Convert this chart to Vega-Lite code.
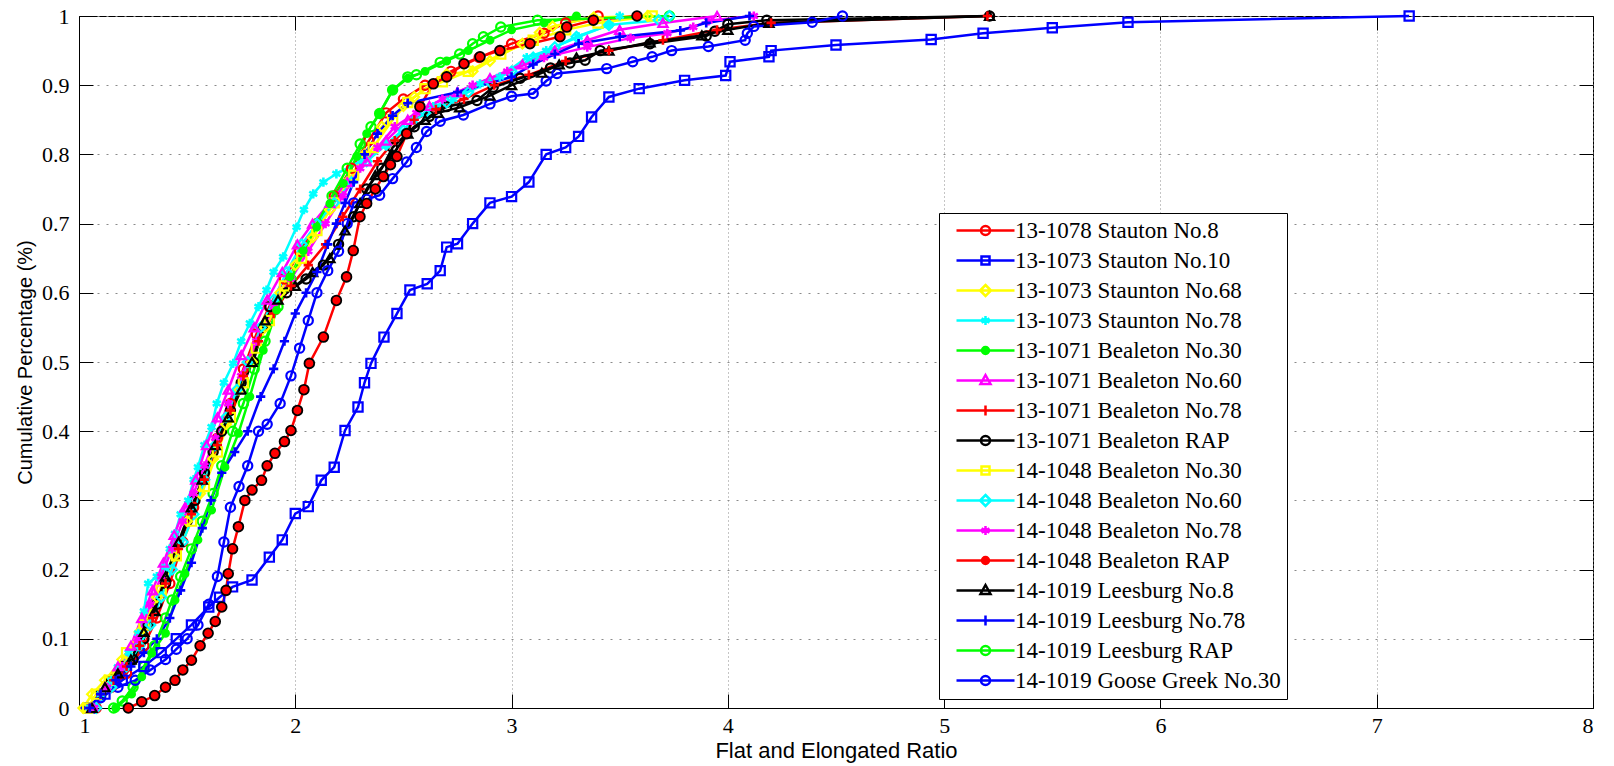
{
  "$schema": "https://vega.github.io/schema/vega-lite/v6.json",
  "width": 1514,
  "height": 692,
  "autosize": {"type": "none"},
  "padding": {"left": 79, "top": 16, "right": 21, "bottom": 58},
  "background": "white",
  "config": {
    "view": {"stroke": "black", "strokeWidth": 1},
    "axis": {"domainColor": "black", "tickColor": "black", "labelColor": "black", "titleColor": "black"},
    "legend": {
      "orient": "none", "legendX": 860, "legendY": 197,
      "strokeColor": "black", "fillColor": "white", "padding": 6, "cornerRadius": 0,
      "labelFont": "Liberation Serif", "labelFontSize": 23, "labelColor": "black",
      "symbolSize": 100, "symbolStrokeWidth": 2.5, "symbolOffset": 29, "labelOffset": 18,
      "rowPadding": 6, "labelLimit": 400
    }
  },
  "datasets": {
    "names": [
      {"id": 1, "series": "13-1078 Stauton No.8"},
      {"id": 2, "series": "13-1073 Stauton No.10"},
      {"id": 3, "series": "13-1073 Staunton No.68"},
      {"id": 4, "series": "13-1073 Staunton No.78"},
      {"id": 5, "series": "13-1071 Bealeton No.30"},
      {"id": 6, "series": "13-1071 Bealeton No.60"},
      {"id": 7, "series": "13-1071 Bealeton No.78"},
      {"id": 8, "series": "13-1071 Bealeton RAP"},
      {"id": 9, "series": "14-1048 Bealeton No.30"},
      {"id": 10, "series": "14-1048 Bealeton No.60"},
      {"id": 11, "series": "14-1048 Bealeton No.78"},
      {"id": 12, "series": "14-1048 Bealeton RAP"},
      {"id": 13, "series": "14-1019 Leesburg No.8"},
      {"id": 14, "series": "14-1019 Leesburg No.78"},
      {"id": 15, "series": "14-1019 Leesburg RAP"},
      {"id": 16, "series": "14-1019 Goose Greek No.30"}
    ],
    "pts": [
      {"id":1,"x":1.08,"y":0},{"id":1,"x":1.15,"y":0.03},{"id":1,"x":1.22,"y":0.05},{"id":1,"x":1.3,"y":0.09},{"id":1,"x":1.36,"y":0.13},{"id":1,"x":1.42,"y":0.18},{"id":1,"x":1.48,"y":0.24},{"id":1,"x":1.53,"y":0.29},{"id":1,"x":1.58,"y":0.33},{"id":1,"x":1.64,"y":0.39},{"id":1,"x":1.7,"y":0.44},{"id":1,"x":1.76,"y":0.49},{"id":1,"x":1.82,"y":0.54},{"id":1,"x":1.88,"y":0.58},{"id":1,"x":1.95,"y":0.62},{"id":1,"x":2.02,"y":0.66},{"id":1,"x":2.1,"y":0.7},{"id":1,"x":2.18,"y":0.74},{"id":1,"x":2.26,"y":0.78},{"id":1,"x":2.34,"y":0.82},{"id":1,"x":2.42,"y":0.86},{"id":1,"x":2.5,"y":0.88},{"id":1,"x":2.6,"y":0.9},{"id":1,"x":2.72,"y":0.92},{"id":1,"x":2.85,"y":0.94},{"id":1,"x":3.0,"y":0.96},{"id":1,"x":3.15,"y":0.975},{"id":1,"x":3.25,"y":0.99},{"id":1,"x":3.4,"y":1.0},

      {"id":2,"x":1.05,"y":0},{"id":2,"x":1.12,"y":0.02},{"id":2,"x":1.2,"y":0.04},{"id":2,"x":1.3,"y":0.06},{"id":2,"x":1.38,"y":0.08},{"id":2,"x":1.45,"y":0.1},{"id":2,"x":1.52,"y":0.12},{"id":2,"x":1.6,"y":0.146},{"id":2,"x":1.65,"y":0.16},{"id":2,"x":1.71,"y":0.175},{"id":2,"x":1.8,"y":0.185},{"id":2,"x":1.88,"y":0.218},{"id":2,"x":1.94,"y":0.243},{"id":2,"x":2.0,"y":0.281},{"id":2,"x":2.06,"y":0.291},{"id":2,"x":2.12,"y":0.329},{"id":2,"x":2.18,"y":0.348},{"id":2,"x":2.23,"y":0.401},{"id":2,"x":2.29,"y":0.435},{"id":2,"x":2.32,"y":0.47},{"id":2,"x":2.35,"y":0.498},{"id":2,"x":2.41,"y":0.536},{"id":2,"x":2.47,"y":0.57},{"id":2,"x":2.53,"y":0.604},{"id":2,"x":2.61,"y":0.613},{"id":2,"x":2.67,"y":0.632},{"id":2,"x":2.7,"y":0.666},{"id":2,"x":2.75,"y":0.671},{"id":2,"x":2.82,"y":0.7},{"id":2,"x":2.9,"y":0.73},{"id":2,"x":3.0,"y":0.739},{"id":2,"x":3.08,"y":0.76},{"id":2,"x":3.16,"y":0.8},{"id":2,"x":3.25,"y":0.81},{"id":2,"x":3.31,"y":0.826},{"id":2,"x":3.37,"y":0.854},{"id":2,"x":3.45,"y":0.883},{"id":2,"x":3.59,"y":0.895},{"id":2,"x":3.8,"y":0.907},{"id":2,"x":3.99,"y":0.914},{"id":2,"x":4.01,"y":0.934},{"id":2,"x":4.19,"y":0.941},{"id":2,"x":4.2,"y":0.95},{"id":2,"x":4.5,"y":0.958},{"id":2,"x":4.94,"y":0.966},{"id":2,"x":5.18,"y":0.975},{"id":2,"x":5.5,"y":0.983},{"id":2,"x":5.85,"y":0.991},{"id":2,"x":7.15,"y":1.0},

      {"id":3,"x":1.02,"y":0},{"id":3,"x":1.06,"y":0.02},{"id":3,"x":1.12,"y":0.04},{"id":3,"x":1.2,"y":0.07},{"id":3,"x":1.28,"y":0.11},{"id":3,"x":1.36,"y":0.16},{"id":3,"x":1.44,"y":0.22},{"id":3,"x":1.5,"y":0.27},{"id":3,"x":1.56,"y":0.31},{"id":3,"x":1.62,"y":0.36},{"id":3,"x":1.68,"y":0.41},{"id":3,"x":1.74,"y":0.46},{"id":3,"x":1.8,"y":0.5},{"id":3,"x":1.86,"y":0.55},{"id":3,"x":1.93,"y":0.6},{"id":3,"x":2.0,"y":0.64},{"id":3,"x":2.08,"y":0.68},{"id":3,"x":2.16,"y":0.72},{"id":3,"x":2.24,"y":0.76},{"id":3,"x":2.32,"y":0.8},{"id":3,"x":2.4,"y":0.84},{"id":3,"x":2.5,"y":0.87},{"id":3,"x":2.55,"y":0.883},{"id":3,"x":2.7,"y":0.916},{"id":3,"x":2.82,"y":0.92},{"id":3,"x":2.9,"y":0.935},{"id":3,"x":3.05,"y":0.96},{"id":3,"x":3.13,"y":0.976},{"id":3,"x":3.19,"y":0.985},{"id":3,"x":3.38,"y":0.998},{"id":3,"x":3.63,"y":1.0},

      {"id":4,"x":1.05,"y":0},{"id":4,"x":1.1,"y":0.02},{"id":4,"x":1.15,"y":0.04},{"id":4,"x":1.18,"y":0.059},{"id":4,"x":1.23,"y":0.08},{"id":4,"x":1.274,"y":0.108},{"id":4,"x":1.3,"y":0.14},{"id":4,"x":1.32,"y":0.18},{"id":4,"x":1.36,"y":0.19},{"id":4,"x":1.4,"y":0.204},{"id":4,"x":1.42,"y":0.23},{"id":4,"x":1.444,"y":0.252},{"id":4,"x":1.47,"y":0.28},{"id":4,"x":1.505,"y":0.3},{"id":4,"x":1.53,"y":0.33},{"id":4,"x":1.55,"y":0.348},{"id":4,"x":1.58,"y":0.38},{"id":4,"x":1.613,"y":0.406},{"id":4,"x":1.637,"y":0.44},{"id":4,"x":1.67,"y":0.47},{"id":4,"x":1.713,"y":0.498},{"id":4,"x":1.75,"y":0.53},{"id":4,"x":1.79,"y":0.556},{"id":4,"x":1.83,"y":0.58},{"id":4,"x":1.867,"y":0.604},{"id":4,"x":1.9,"y":0.63},{"id":4,"x":1.944,"y":0.652},{"id":4,"x":2.006,"y":0.695},{"id":4,"x":2.04,"y":0.72},{"id":4,"x":2.083,"y":0.743},{"id":4,"x":2.13,"y":0.76},{"id":4,"x":2.19,"y":0.772},{"id":4,"x":2.3,"y":0.79},{"id":4,"x":2.42,"y":0.814},{"id":4,"x":2.546,"y":0.849},{"id":4,"x":2.638,"y":0.869},{"id":4,"x":2.73,"y":0.88},{"id":4,"x":2.854,"y":0.902},{"id":4,"x":2.946,"y":0.912},{"id":4,"x":3.07,"y":0.94},{"id":4,"x":3.16,"y":0.95},{"id":4,"x":3.31,"y":0.97},{"id":4,"x":3.45,"y":0.987},{"id":4,"x":3.5,"y":1.0},

      {"id":5,"x":1.17,"y":0},{"id":5,"x":1.243,"y":0.02},{"id":5,"x":1.29,"y":0.045},{"id":5,"x":1.336,"y":0.079},{"id":5,"x":1.4,"y":0.108},{"id":5,"x":1.444,"y":0.156},{"id":5,"x":1.49,"y":0.194},{"id":5,"x":1.55,"y":0.243},{"id":5,"x":1.613,"y":0.286},{"id":5,"x":1.675,"y":0.348},{"id":5,"x":1.737,"y":0.397},{"id":5,"x":1.79,"y":0.45},{"id":5,"x":1.852,"y":0.517},{"id":5,"x":1.914,"y":0.575},{"id":5,"x":1.975,"y":0.623},{"id":5,"x":2.037,"y":0.661},{"id":5,"x":2.099,"y":0.695},{"id":5,"x":2.16,"y":0.729},{"id":5,"x":2.222,"y":0.758},{"id":5,"x":2.284,"y":0.797},{"id":5,"x":2.33,"y":0.83},{"id":5,"x":2.39,"y":0.86},{"id":5,"x":2.45,"y":0.893},{"id":5,"x":2.52,"y":0.91},{"id":5,"x":2.6,"y":0.92},{"id":5,"x":2.7,"y":0.935},{"id":5,"x":2.8,"y":0.95},{"id":5,"x":2.9,"y":0.965},{"id":5,"x":3.0,"y":0.98},{"id":5,"x":3.15,"y":0.99},{"id":5,"x":3.3,"y":1.0},

      {"id":6,"x":1.06,"y":0},{"id":6,"x":1.12,"y":0.03},{"id":6,"x":1.18,"y":0.06},{"id":6,"x":1.24,"y":0.09},{"id":6,"x":1.29,"y":0.13},{"id":6,"x":1.34,"y":0.17},{"id":6,"x":1.39,"y":0.21},{"id":6,"x":1.44,"y":0.25},{"id":6,"x":1.49,"y":0.29},{"id":6,"x":1.54,"y":0.33},{"id":6,"x":1.59,"y":0.38},{"id":6,"x":1.64,"y":0.42},{"id":6,"x":1.69,"y":0.46},{"id":6,"x":1.75,"y":0.51},{"id":6,"x":1.81,"y":0.55},{"id":6,"x":1.87,"y":0.59},{"id":6,"x":1.94,"y":0.63},{"id":6,"x":2.01,"y":0.67},{"id":6,"x":2.08,"y":0.7},{"id":6,"x":2.16,"y":0.73},{"id":6,"x":2.24,"y":0.76},{"id":6,"x":2.33,"y":0.79},{"id":6,"x":2.42,"y":0.82},{"id":6,"x":2.52,"y":0.85},{"id":6,"x":2.62,"y":0.87},{"id":6,"x":2.75,"y":0.89},{"id":6,"x":2.9,"y":0.91},{"id":6,"x":3.05,"y":0.93},{"id":6,"x":3.2,"y":0.95},{"id":6,"x":3.35,"y":0.965},{"id":6,"x":3.5,"y":0.98},{"id":6,"x":3.7,"y":0.99},{"id":6,"x":3.95,"y":1.0},

      {"id":7,"x":1.05,"y":0},{"id":7,"x":1.1,"y":0.02},{"id":7,"x":1.16,"y":0.04},{"id":7,"x":1.22,"y":0.06},{"id":7,"x":1.28,"y":0.09},{"id":7,"x":1.34,"y":0.13},{"id":7,"x":1.4,"y":0.18},{"id":7,"x":1.46,"y":0.23},{"id":7,"x":1.52,"y":0.28},{"id":7,"x":1.58,"y":0.33},{"id":7,"x":1.64,"y":0.38},{"id":7,"x":1.7,"y":0.43},{"id":7,"x":1.76,"y":0.48},{"id":7,"x":1.83,"y":0.53},{"id":7,"x":1.9,"y":0.57},{"id":7,"x":1.98,"y":0.61},{"id":7,"x":2.06,"y":0.64},{"id":7,"x":2.14,"y":0.67},{"id":7,"x":2.22,"y":0.71},{"id":7,"x":2.3,"y":0.75},{"id":7,"x":2.38,"y":0.79},{"id":7,"x":2.46,"y":0.82},{"id":7,"x":2.55,"y":0.85},{"id":7,"x":2.65,"y":0.865},{"id":7,"x":2.78,"y":0.88},{"id":7,"x":2.92,"y":0.9},{"id":7,"x":3.08,"y":0.915},{"id":7,"x":3.25,"y":0.935},{"id":7,"x":3.45,"y":0.95},{"id":7,"x":3.7,"y":0.965},{"id":7,"x":3.95,"y":0.98},{"id":7,"x":4.2,"y":0.99},{"id":7,"x":5.2,"y":1.0},

      {"id":8,"x":1.05,"y":0},{"id":8,"x":1.1,"y":0.02},{"id":8,"x":1.15,"y":0.04},{"id":8,"x":1.2,"y":0.06},{"id":8,"x":1.25,"y":0.07},{"id":8,"x":1.3,"y":0.1},{"id":8,"x":1.32,"y":0.12},{"id":8,"x":1.36,"y":0.15},{"id":8,"x":1.4,"y":0.18},{"id":8,"x":1.45,"y":0.22},{"id":8,"x":1.5,"y":0.27},{"id":8,"x":1.536,"y":0.3},{"id":8,"x":1.58,"y":0.34},{"id":8,"x":1.62,"y":0.37},{"id":8,"x":1.66,"y":0.4},{"id":8,"x":1.7,"y":0.43},{"id":8,"x":1.75,"y":0.47},{"id":8,"x":1.806,"y":0.5},{"id":8,"x":1.85,"y":0.55},{"id":8,"x":1.883,"y":0.58},{"id":8,"x":1.96,"y":0.6},{"id":8,"x":2.05,"y":0.62},{"id":8,"x":2.13,"y":0.64},{"id":8,"x":2.2,"y":0.67},{"id":8,"x":2.27,"y":0.71},{"id":8,"x":2.33,"y":0.75},{"id":8,"x":2.4,"y":0.78},{"id":8,"x":2.45,"y":0.81},{"id":8,"x":2.55,"y":0.84},{"id":8,"x":2.62,"y":0.855},{"id":8,"x":2.7,"y":0.869},{"id":8,"x":2.84,"y":0.878},{"id":8,"x":2.915,"y":0.897},{"id":8,"x":3.04,"y":0.91},{"id":8,"x":3.18,"y":0.925},{"id":8,"x":3.27,"y":0.932},{"id":8,"x":3.34,"y":0.936},{"id":8,"x":3.41,"y":0.95},{"id":8,"x":3.64,"y":0.96},{"id":8,"x":3.9,"y":0.971},{"id":8,"x":3.94,"y":0.978},{"id":8,"x":4.0,"y":0.988},{"id":8,"x":4.18,"y":0.994},{"id":8,"x":5.21,"y":1.0},

      {"id":9,"x":1.04,"y":0},{"id":9,"x":1.08,"y":0.02},{"id":9,"x":1.14,"y":0.04},{"id":9,"x":1.22,"y":0.08},{"id":9,"x":1.3,"y":0.12},{"id":9,"x":1.38,"y":0.17},{"id":9,"x":1.45,"y":0.22},{"id":9,"x":1.52,"y":0.27},{"id":9,"x":1.58,"y":0.32},{"id":9,"x":1.64,"y":0.37},{"id":9,"x":1.7,"y":0.42},{"id":9,"x":1.76,"y":0.47},{"id":9,"x":1.82,"y":0.52},{"id":9,"x":1.88,"y":0.56},{"id":9,"x":1.95,"y":0.61},{"id":9,"x":2.03,"y":0.65},{"id":9,"x":2.1,"y":0.69},{"id":9,"x":2.18,"y":0.73},{"id":9,"x":2.27,"y":0.77},{"id":9,"x":2.36,"y":0.81},{"id":9,"x":2.45,"y":0.85},{"id":9,"x":2.52,"y":0.875},{"id":9,"x":2.6,"y":0.895},{"id":9,"x":2.68,"y":0.905},{"id":9,"x":2.8,"y":0.92},{"id":9,"x":2.95,"y":0.945},{"id":9,"x":3.1,"y":0.965},{"id":9,"x":3.25,"y":0.98},{"id":9,"x":3.4,"y":0.99},{"id":9,"x":3.65,"y":1.0},

      {"id":10,"x":1.08,"y":0},{"id":10,"x":1.15,"y":0.03},{"id":10,"x":1.22,"y":0.06},{"id":10,"x":1.28,"y":0.09},{"id":10,"x":1.33,"y":0.12},{"id":10,"x":1.38,"y":0.16},{"id":10,"x":1.43,"y":0.2},{"id":10,"x":1.48,"y":0.24},{"id":10,"x":1.53,"y":0.28},{"id":10,"x":1.58,"y":0.33},{"id":10,"x":1.63,"y":0.38},{"id":10,"x":1.68,"y":0.42},{"id":10,"x":1.73,"y":0.46},{"id":10,"x":1.78,"y":0.5},{"id":10,"x":1.84,"y":0.55},{"id":10,"x":1.9,"y":0.59},{"id":10,"x":1.96,"y":0.63},{"id":10,"x":2.03,"y":0.67},{"id":10,"x":2.1,"y":0.7},{"id":10,"x":2.18,"y":0.73},{"id":10,"x":2.26,"y":0.76},{"id":10,"x":2.33,"y":0.79},{"id":10,"x":2.42,"y":0.814},{"id":10,"x":2.5,"y":0.835},{"id":10,"x":2.6,"y":0.86},{"id":10,"x":2.7,"y":0.875},{"id":10,"x":2.8,"y":0.89},{"id":10,"x":2.9,"y":0.905},{"id":10,"x":3.0,"y":0.92},{"id":10,"x":3.1,"y":0.94},{"id":10,"x":3.2,"y":0.955},{"id":10,"x":3.3,"y":0.97},{"id":10,"x":3.45,"y":0.987},{"id":10,"x":3.68,"y":0.994},{"id":10,"x":3.73,"y":1.0},

      {"id":11,"x":1.07,"y":0},{"id":11,"x":1.13,"y":0.03},{"id":11,"x":1.2,"y":0.06},{"id":11,"x":1.27,"y":0.1},{"id":11,"x":1.33,"y":0.15},{"id":11,"x":1.38,"y":0.19},{"id":11,"x":1.43,"y":0.23},{"id":11,"x":1.48,"y":0.27},{"id":11,"x":1.53,"y":0.31},{"id":11,"x":1.58,"y":0.35},{"id":11,"x":1.63,"y":0.39},{"id":11,"x":1.69,"y":0.44},{"id":11,"x":1.75,"y":0.48},{"id":11,"x":1.82,"y":0.53},{"id":11,"x":1.9,"y":0.58},{"id":11,"x":1.98,"y":0.62},{"id":11,"x":2.06,"y":0.66},{"id":11,"x":2.14,"y":0.7},{"id":11,"x":2.22,"y":0.74},{"id":11,"x":2.3,"y":0.78},{"id":11,"x":2.38,"y":0.81},{"id":11,"x":2.46,"y":0.84},{"id":11,"x":2.56,"y":0.86},{"id":11,"x":2.68,"y":0.88},{"id":11,"x":2.82,"y":0.9},{"id":11,"x":2.98,"y":0.92},{"id":11,"x":3.15,"y":0.94},{"id":11,"x":3.35,"y":0.955},{"id":11,"x":3.55,"y":0.968},{"id":11,"x":3.72,"y":0.975},{"id":11,"x":3.84,"y":0.984},{"id":11,"x":3.91,"y":0.993},{"id":11,"x":4.12,"y":1.0},

      {"id":12,"x":1.228,"y":0},{"id":12,"x":1.29,"y":0.009},{"id":12,"x":1.35,"y":0.018},{"id":12,"x":1.4,"y":0.03},{"id":12,"x":1.444,"y":0.04},{"id":12,"x":1.48,"y":0.055},{"id":12,"x":1.52,"y":0.069},{"id":12,"x":1.56,"y":0.09},{"id":12,"x":1.597,"y":0.108},{"id":12,"x":1.63,"y":0.125},{"id":12,"x":1.66,"y":0.146},{"id":12,"x":1.68,"y":0.17},{"id":12,"x":1.69,"y":0.194},{"id":12,"x":1.71,"y":0.23},{"id":12,"x":1.737,"y":0.262},{"id":12,"x":1.767,"y":0.3},{"id":12,"x":1.8,"y":0.315},{"id":12,"x":1.844,"y":0.329},{"id":12,"x":1.87,"y":0.35},{"id":12,"x":1.906,"y":0.368},{"id":12,"x":1.95,"y":0.385},{"id":12,"x":1.98,"y":0.401},{"id":12,"x":2.01,"y":0.43},{"id":12,"x":2.04,"y":0.46},{"id":12,"x":2.065,"y":0.498},{"id":12,"x":2.13,"y":0.536},{"id":12,"x":2.19,"y":0.589},{"id":12,"x":2.237,"y":0.623},{"id":12,"x":2.268,"y":0.661},{"id":12,"x":2.299,"y":0.71},{"id":12,"x":2.33,"y":0.729},{"id":12,"x":2.37,"y":0.75},{"id":12,"x":2.407,"y":0.768},{"id":12,"x":2.44,"y":0.785},{"id":12,"x":2.47,"y":0.797},{"id":12,"x":2.515,"y":0.83},{"id":12,"x":2.576,"y":0.869},{"id":12,"x":2.638,"y":0.902},{"id":12,"x":2.7,"y":0.912},{"id":12,"x":2.78,"y":0.931},{"id":12,"x":2.854,"y":0.941},{"id":12,"x":2.946,"y":0.95},{"id":12,"x":3.085,"y":0.96},{"id":12,"x":3.224,"y":0.97},{"id":12,"x":3.255,"y":0.984},{"id":12,"x":3.378,"y":0.994},{"id":12,"x":3.58,"y":1.0},

      {"id":13,"x":1.06,"y":0},{"id":13,"x":1.12,"y":0.03},{"id":13,"x":1.18,"y":0.05},{"id":13,"x":1.24,"y":0.07},{"id":13,"x":1.3,"y":0.11},{"id":13,"x":1.35,"y":0.14},{"id":13,"x":1.4,"y":0.19},{"id":13,"x":1.46,"y":0.24},{"id":13,"x":1.52,"y":0.29},{"id":13,"x":1.57,"y":0.33},{"id":13,"x":1.63,"y":0.38},{"id":13,"x":1.69,"y":0.42},{"id":13,"x":1.75,"y":0.46},{"id":13,"x":1.8,"y":0.5},{"id":13,"x":1.86,"y":0.56},{"id":13,"x":1.92,"y":0.59},{"id":13,"x":2.0,"y":0.61},{"id":13,"x":2.08,"y":0.63},{"id":13,"x":2.16,"y":0.65},{"id":13,"x":2.23,"y":0.69},{"id":13,"x":2.3,"y":0.73},{"id":13,"x":2.37,"y":0.77},{"id":13,"x":2.45,"y":0.8},{"id":13,"x":2.52,"y":0.83},{"id":13,"x":2.6,"y":0.85},{"id":13,"x":2.66,"y":0.86},{"id":13,"x":2.76,"y":0.868},{"id":13,"x":2.9,"y":0.885},{"id":13,"x":3.0,"y":0.9},{"id":13,"x":3.14,"y":0.918},{"id":13,"x":3.22,"y":0.93},{"id":13,"x":3.3,"y":0.94},{"id":13,"x":3.45,"y":0.95},{"id":13,"x":3.64,"y":0.962},{"id":13,"x":3.88,"y":0.972},{"id":13,"x":4.0,"y":0.98},{"id":13,"x":4.19,"y":0.99},{"id":13,"x":5.21,"y":1.0},

      {"id":14,"x":1.05,"y":0},{"id":14,"x":1.1,"y":0.02},{"id":14,"x":1.17,"y":0.04},{"id":14,"x":1.24,"y":0.06},{"id":14,"x":1.3,"y":0.08},{"id":14,"x":1.36,"y":0.1},{"id":14,"x":1.42,"y":0.13},{"id":14,"x":1.47,"y":0.17},{"id":14,"x":1.52,"y":0.21},{"id":14,"x":1.57,"y":0.26},{"id":14,"x":1.61,"y":0.3},{"id":14,"x":1.66,"y":0.34},{"id":14,"x":1.72,"y":0.37},{"id":14,"x":1.78,"y":0.4},{"id":14,"x":1.84,"y":0.45},{"id":14,"x":1.9,"y":0.49},{"id":14,"x":1.95,"y":0.53},{"id":14,"x":2.0,"y":0.57},{"id":14,"x":2.05,"y":0.6},{"id":14,"x":2.1,"y":0.63},{"id":14,"x":2.15,"y":0.67},{"id":14,"x":2.19,"y":0.7},{"id":14,"x":2.23,"y":0.73},{"id":14,"x":2.27,"y":0.76},{"id":14,"x":2.32,"y":0.8},{"id":14,"x":2.38,"y":0.83},{"id":14,"x":2.45,"y":0.856},{"id":14,"x":2.52,"y":0.874},{"id":14,"x":2.75,"y":0.89},{"id":14,"x":3.0,"y":0.912},{"id":14,"x":3.1,"y":0.93},{"id":14,"x":3.2,"y":0.945},{"id":14,"x":3.31,"y":0.96},{"id":14,"x":3.5,"y":0.97},{"id":14,"x":3.78,"y":0.979},{"id":14,"x":3.9,"y":0.99},{"id":14,"x":4.1,"y":1.0},

      {"id":15,"x":1.16,"y":0},{"id":15,"x":1.2,"y":0.01},{"id":15,"x":1.25,"y":0.03},{"id":15,"x":1.3,"y":0.06},{"id":15,"x":1.35,"y":0.09},{"id":15,"x":1.4,"y":0.13},{"id":15,"x":1.43,"y":0.156},{"id":15,"x":1.47,"y":0.19},{"id":15,"x":1.52,"y":0.23},{"id":15,"x":1.57,"y":0.27},{"id":15,"x":1.62,"y":0.31},{"id":15,"x":1.66,"y":0.35},{"id":15,"x":1.71,"y":0.4},{"id":15,"x":1.76,"y":0.44},{"id":15,"x":1.81,"y":0.49},{"id":15,"x":1.86,"y":0.53},{"id":15,"x":1.92,"y":0.58},{"id":15,"x":1.98,"y":0.62},{"id":15,"x":2.04,"y":0.66},{"id":15,"x":2.1,"y":0.7},{"id":15,"x":2.17,"y":0.74},{"id":15,"x":2.24,"y":0.78},{"id":15,"x":2.3,"y":0.815},{"id":15,"x":2.35,"y":0.84},{"id":15,"x":2.39,"y":0.859},{"id":15,"x":2.45,"y":0.893},{"id":15,"x":2.52,"y":0.912},{"id":15,"x":2.56,"y":0.915},{"id":15,"x":2.67,"y":0.933},{"id":15,"x":2.76,"y":0.945},{"id":15,"x":2.82,"y":0.96},{"id":15,"x":2.87,"y":0.97},{"id":15,"x":2.95,"y":0.984},{"id":15,"x":3.12,"y":0.994},{"id":15,"x":3.73,"y":1.0},

      {"id":16,"x":1.03,"y":0},{"id":16,"x":1.1,"y":0.015},{"id":16,"x":1.18,"y":0.03},{"id":16,"x":1.26,"y":0.04},{"id":16,"x":1.33,"y":0.055},{"id":16,"x":1.4,"y":0.07},{"id":16,"x":1.45,"y":0.085},{"id":16,"x":1.5,"y":0.1},{"id":16,"x":1.55,"y":0.12},{"id":16,"x":1.6,"y":0.15},{"id":16,"x":1.64,"y":0.19},{"id":16,"x":1.67,"y":0.24},{"id":16,"x":1.7,"y":0.29},{"id":16,"x":1.74,"y":0.32},{"id":16,"x":1.78,"y":0.35},{"id":16,"x":1.83,"y":0.4},{"id":16,"x":1.87,"y":0.41},{"id":16,"x":1.93,"y":0.44},{"id":16,"x":1.98,"y":0.48},{"id":16,"x":2.02,"y":0.52},{"id":16,"x":2.06,"y":0.56},{"id":16,"x":2.1,"y":0.6},{"id":16,"x":2.15,"y":0.632},{"id":16,"x":2.2,"y":0.66},{"id":16,"x":2.24,"y":0.7},{"id":16,"x":2.27,"y":0.73},{"id":16,"x":2.33,"y":0.735},{"id":16,"x":2.39,"y":0.741},{"id":16,"x":2.45,"y":0.765},{"id":16,"x":2.515,"y":0.789},{"id":16,"x":2.56,"y":0.81},{"id":16,"x":2.607,"y":0.833},{"id":16,"x":2.67,"y":0.848},{"id":16,"x":2.777,"y":0.857},{"id":16,"x":2.9,"y":0.873},{"id":16,"x":3.0,"y":0.884},{"id":16,"x":3.1,"y":0.888},{"id":16,"x":3.16,"y":0.906},{"id":16,"x":3.21,"y":0.917},{"id":16,"x":3.44,"y":0.924},{"id":16,"x":3.56,"y":0.934},{"id":16,"x":3.65,"y":0.941},{"id":16,"x":3.74,"y":0.95},{"id":16,"x":3.91,"y":0.956},{"id":16,"x":4.08,"y":0.965},{"id":16,"x":4.09,"y":0.975},{"id":16,"x":4.12,"y":0.985},{"id":16,"x":4.39,"y":0.991},{"id":16,"x":4.53,"y":1.0}
    ]
  },
  "data": {"name": "pts"},
  "transform": [
    {"lookup": "id", "from": {"data": {"name": "names"}, "key": "id", "fields": ["series"]}}
  ],
  "resolve": {"axis": {"x": "independent", "y": "independent"}},
  "encoding": {
    "x": {"field": "x", "type": "quantitative", "scale": {"domain": [1, 8], "nice": false, "zero": false}, "axis": null},
    "y": {"field": "y", "type": "quantitative", "scale": {"domain": [0, 1], "nice": false}, "axis": null}
  },
  "layer": [
    {
      "mark": {"type": "line", "strokeWidth": 2.5},
      "encoding": {
        "x": {
          "field": "x", "type": "quantitative",
          "axis": {
            "orient": "bottom", "values": [1, 2, 3, 4, 5, 6, 7, 8], "format": "d",
            "grid": true, "gridColor": "#8a8a8a", "gridDash": [1, 3], "gridWidth": 1,
            "domain": true, "domainWidth": 1, "tickSize": -14, "tickWidth": 1,
            "labelFont": "Liberation Serif", "labelFontSize": 22, "labelPadding": 21,
            "title": "Flat and Elongated Ratio", "titleFont": "Liberation Sans", "titleFontSize": 22,
            "titleFontWeight": "normal", "titlePadding": 4
          }
        },
        "y": {
          "field": "y", "type": "quantitative",
          "axis": {
            "orient": "left", "values": [0, 0.1, 0.2, 0.3, 0.4, 0.5, 0.6, 0.7, 0.8, 0.9, 1], "format": "~g",
            "grid": true, "gridColor": "#8a8a8a", "gridDash": [2, 7], "gridWidth": 1,
            "domain": true, "domainWidth": 1, "tickSize": -14, "tickWidth": 1,
            "labelFont": "Liberation Serif", "labelFontSize": 22, "labelPadding": 24,
            "title": "Cumulative Percentage (%)", "titleFont": "Liberation Sans", "titleFontSize": 20,
            "titleFontWeight": "normal", "titlePadding": 6
          }
        },
        "color": {
          "field": "series", "type": "nominal", "legend": {"title": null},
          "scale": {
            "domain": ["13-1078 Stauton No.8", "13-1073 Stauton No.10", "13-1073 Staunton No.68", "13-1073 Staunton No.78", "13-1071 Bealeton No.30", "13-1071 Bealeton No.60", "13-1071 Bealeton No.78", "13-1071 Bealeton RAP", "14-1048 Bealeton No.30", "14-1048 Bealeton No.60", "14-1048 Bealeton No.78", "14-1048 Bealeton RAP", "14-1019 Leesburg No.8", "14-1019 Leesburg No.78", "14-1019 Leesburg RAP", "14-1019 Goose Greek No.30"],
            "range": ["#ff0000", "#0000ff", "#ffff00", "#00ffff", "#00ff00", "#ff00ff", "#ff0000", "#000000", "#ffff00", "#00ffff", "#ff00ff", "#ff0000", "#000000", "#0000ff", "#00ff00", "#0000ff"]
          }
        }
      }
    },
    {
      "transform": [{"filter": "indexof([1, 8, 15, 16], datum.id) >= 0"}],
      "mark": {"type": "point", "shape": "circle", "size": 85, "strokeWidth": 2.2, "filled": false, "opacity": 1},
      "encoding": {
        "x": {
          "field": "x", "type": "quantitative",
          "axis": {"orient": "top", "labels": false, "grid": false, "domain": false, "tickSize": -14, "tickColor": "black", "values": [1, 2, 3, 4, 5, 6, 7, 8], "title": null}
        },
        "y": {
          "field": "y", "type": "quantitative",
          "axis": {"orient": "right", "labels": false, "grid": false, "domain": false, "tickSize": -14, "tickColor": "black", "values": [0, 0.1, 0.2, 0.3, 0.4, 0.5, 0.6, 0.7, 0.8, 0.9, 1], "title": null}
        },
        "color": {"field": "series", "type": "nominal", "legend": {"title": null}}
      }
    },
    {
      "transform": [{"filter": "indexof([2, 9], datum.id) >= 0"}],
      "mark": {"type": "point", "shape": "square", "size": 85, "strokeWidth": 2.2, "filled": false, "opacity": 1},
      "encoding": {"color": {"field": "series", "type": "nominal", "legend": {"title": null}}}
    },
    {
      "transform": [{"filter": "indexof([3, 10], datum.id) >= 0"}],
      "mark": {"type": "point", "shape": "diamond", "size": 95, "strokeWidth": 2.2, "filled": false, "opacity": 1},
      "encoding": {"color": {"field": "series", "type": "nominal", "legend": {"title": null}}}
    },
    {
      "transform": [{"filter": "indexof([4, 11], datum.id) >= 0"}],
      "mark": {"type": "point", "shape": "M0,-1V1M-0.87,-0.5L0.87,0.5M-0.87,0.5L0.87,-0.5", "size": 85, "strokeWidth": 2.6, "filled": false, "opacity": 1},
      "encoding": {"color": {"field": "series", "type": "nominal", "legend": {"title": null}}}
    },
    {
      "transform": [{"filter": "indexof([6, 13], datum.id) >= 0"}],
      "mark": {"type": "point", "shape": "triangle-up", "size": 85, "strokeWidth": 2.2, "filled": false, "opacity": 1},
      "encoding": {"color": {"field": "series", "type": "nominal", "legend": {"title": null}}}
    },
    {
      "transform": [{"filter": "indexof([7, 14], datum.id) >= 0"}],
      "mark": {"type": "point", "shape": "M0,-1V1M-1,0H1", "size": 85, "strokeWidth": 2.6, "filled": false, "opacity": 1},
      "encoding": {"color": {"field": "series", "type": "nominal", "legend": {"title": null}}}
    },
    {
      "transform": [{"filter": "datum.id == 5"}],
      "mark": {"type": "point", "shape": "circle", "size": 55, "strokeWidth": 1.5, "filled": true, "opacity": 1, "fill": "#00ff00", "stroke": "#00ff00"}
    },
    {
      "transform": [{"filter": "datum.id == 12"}],
      "mark": {"type": "point", "shape": "circle", "size": 95, "strokeWidth": 1.8, "opacity": 1, "fill": "#ff0000", "stroke": "#000000"}
    },
    {
      "transform": [{"filter": "datum.x > 100"}],
      "mark": {"type": "point", "size": 100, "strokeWidth": 2.5, "filled": false, "opacity": 1},
      "encoding": {
        "color": {"field": "series", "type": "nominal", "legend": {"title": null}},
        "shape": {
          "field": "series", "type": "nominal", "legend": {"title": null},
          "scale": {
            "domain": ["13-1078 Stauton No.8", "13-1073 Stauton No.10", "13-1073 Staunton No.68", "13-1073 Staunton No.78", "13-1071 Bealeton No.30", "13-1071 Bealeton No.60", "13-1071 Bealeton No.78", "13-1071 Bealeton RAP", "14-1048 Bealeton No.30", "14-1048 Bealeton No.60", "14-1048 Bealeton No.78", "14-1048 Bealeton RAP", "14-1019 Leesburg No.8", "14-1019 Leesburg No.78", "14-1019 Leesburg RAP", "14-1019 Goose Greek No.30"],
            "range": [
              "M-5.8,0H5.8M-0.9,0A0.9,0.9,0,1,0,0.9,0A0.9,0.9,0,1,0,-0.9,0",
              "M-5.8,0H5.8M-0.8,-0.8H0.8V0.8H-0.8Z",
              "M-5.8,0H5.8M0,-1.1L1.1,0L0,1.1L-1.1,0Z",
              "M-5.8,0H5.8M0,-0.9V0.9M-0.78,-0.45L0.78,0.45M-0.78,0.45L0.78,-0.45",
              "M-5.8,0H5.8M-0.7,0A0.7,0.7,0,1,0,0.7,0A0.7,0.7,0,1,0,-0.7,0",
              "M-5.8,0H5.8M0,-1.1L1,0.7L-1,0.7Z",
              "M-5.8,0H5.8M0,-1V1",
              "M-5.8,0H5.8M-0.9,0A0.9,0.9,0,1,0,0.9,0A0.9,0.9,0,1,0,-0.9,0",
              "M-5.8,0H5.8M-0.8,-0.8H0.8V0.8H-0.8Z",
              "M-5.8,0H5.8M0,-1.1L1.1,0L0,1.1L-1.1,0Z",
              "M-5.8,0H5.8M0,-0.9V0.9M-0.78,-0.45L0.78,0.45M-0.78,0.45L0.78,-0.45",
              "M-5.8,0H5.8M-0.7,0A0.7,0.7,0,1,0,0.7,0A0.7,0.7,0,1,0,-0.7,0",
              "M-5.8,0H5.8M0,-1.1L1,0.7L-1,0.7Z",
              "M-5.8,0H5.8M0,-1V1",
              "M-5.8,0H5.8M-0.9,0A0.9,0.9,0,1,0,0.9,0A0.9,0.9,0,1,0,-0.9,0",
              "M-5.8,0H5.8M-0.9,0A0.9,0.9,0,1,0,0.9,0A0.9,0.9,0,1,0,-0.9,0"
            ]
          }
        },
        "fill": {
          "field": "series", "type": "nominal", "legend": {"title": null},
          "scale": {
            "domain": ["13-1078 Stauton No.8", "13-1073 Stauton No.10", "13-1073 Staunton No.68", "13-1073 Staunton No.78", "13-1071 Bealeton No.30", "13-1071 Bealeton No.60", "13-1071 Bealeton No.78", "13-1071 Bealeton RAP", "14-1048 Bealeton No.30", "14-1048 Bealeton No.60", "14-1048 Bealeton No.78", "14-1048 Bealeton RAP", "14-1019 Leesburg No.8", "14-1019 Leesburg No.78", "14-1019 Leesburg RAP", "14-1019 Goose Greek No.30"],
            "range": ["transparent", "transparent", "transparent", "transparent", "#00ff00", "transparent", "transparent", "transparent", "transparent", "transparent", "transparent", "#ff0000", "transparent", "transparent", "transparent", "transparent"]
          }
        }
      }
    }
  ]
}
